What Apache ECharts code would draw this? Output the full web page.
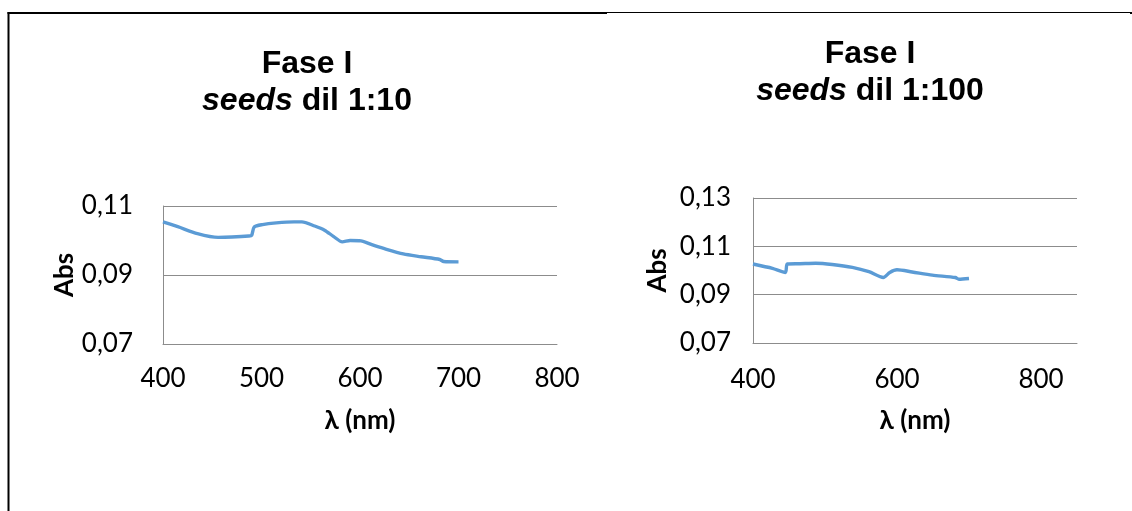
<!DOCTYPE html>
<html>
<head>
<meta charset="utf-8">
<title>Fase I – seeds</title>
<script src="https://cdn.jsdelivr.net/npm/echarts@6/dist/echarts.min.js"></script>
<style>
  html, body { margin: 0; padding: 0; background: #ffffff; }
  #chart { width: 1132px; height: 511px; }
</style>
</head>
<body>
<div id="chart"></div>
<script>
// Absorbance spectra, seeds, phase I
// dilution 1:10
const wavelength10 = [400, 415, 435, 456, 470, 487, 490, 492.6, 501, 515, 533, 541, 554, 564, 573, 582, 590, 601, 612, 624, 644, 662, 681, 685, 700];
const abs10 = [0.1054, 0.1040, 0.1020, 0.1009, 0.1010, 0.1013, 0.1015, 0.1039, 0.1046, 0.1051, 0.1054, 0.1054, 0.1042, 0.1030, 0.1012, 0.0996, 0.1000, 0.0999, 0.0988, 0.0977, 0.0961, 0.0953, 0.0945, 0.0939, 0.0938];
// dilution 1:100
const wavelength100 = [400, 427, 445, 447.6, 465, 487, 510, 538, 561, 581, 590, 600, 621, 649, 681, 686, 700];
const abs100 = [0.1027, 0.1009, 0.0992, 0.1027, 0.1028, 0.1030, 0.1025, 0.1013, 0.0995, 0.0971, 0.0992, 0.1003, 0.0994, 0.0981, 0.0971, 0.0964, 0.0967];

const xTicks10 = { min: 400, max: 800, interval: 100 };
const xTicks100 = { min: 400, max: 850, interval: 200 };
const yTicks10 = { min: 0.07, max: 0.11, interval: 0.02 };
const yTicks100 = { min: 0.07, max: 0.13, interval: 0.02 };

const lineBlue = '#5B9BD5';
const gridGrey = '#8C8C8C';
const labelFont = 'Lato, "Open Sans", sans-serif';
const titleFont = '"Liberation Sans", Arial, sans-serif';

function pairs(xs, ys) { return xs.map((x, i) => [x, ys[i]]); }
const comma = v => v.toFixed(2).replace('.', ',');

function titleBlock(dil, left, top) {
  return {
    text: '{b|Fase I}\n{i|seeds}{b| dil ' + dil + '}',
    left: left, top: top, textAlign: 'center',
    textStyle: {
      rich: {
        b: { fontFamily: titleFont, fontSize: 32, fontWeight: 'bold', color: '#000', lineHeight: 37 },
        i: { fontFamily: titleFont, fontSize: 32, fontWeight: 'bold', fontStyle: 'italic', color: '#000', lineHeight: 37 }
      }
    }
  };
}

function xAxisDef(gridIndex, ticks, labelMargin, nameGap) {
  return {
    type: 'value', gridIndex: gridIndex,
    min: ticks.min, max: ticks.max, interval: ticks.interval,
    name: 'λ (nm)', nameLocation: 'middle', nameGap: nameGap,
    nameTextStyle: { fontFamily: labelFont, fontSize: 26, fontWeight: 'bold', color: '#000' },
    axisLine: { show: true, lineStyle: { color: gridGrey, width: 1 } },
    axisTick: { show: false },
    splitLine: { show: false },
    axisLabel: { fontFamily: labelFont, fontSize: 26, color: '#000', margin: labelMargin, showMaxLabel: ticks.max % ticks.interval === 0 }
  };
}

function yAxisDef(gridIndex, ticks, labelMargin, nameGap) {
  return {
    type: 'value', gridIndex: gridIndex,
    min: ticks.min, max: ticks.max, interval: ticks.interval,
    name: 'Abs', nameLocation: 'middle', nameGap: nameGap,
    nameTextStyle: { fontFamily: labelFont, fontSize: 26, fontWeight: 'bold', color: '#000' },
    axisLine: { show: true, lineStyle: { color: gridGrey, width: 1 } },
    axisTick: { show: false },
    splitLine: { show: true, lineStyle: { color: gridGrey, width: 1 } },
    axisLabel: { fontFamily: labelFont, fontSize: 26, color: '#000', margin: labelMargin, formatter: comma }
  };
}

function spectrum(index, data) {
  return {
    type: 'line', xAxisIndex: index, yAxisIndex: index,
    data: data, showSymbol: false, smooth: 0.25,
    lineStyle: { color: lineBlue, width: 3.4 },
    animation: false
  };
}

const chart = echarts.init(document.getElementById('chart'), null, { renderer: 'canvas' });
chart.setOption({
  backgroundColor: '#ffffff',
  animation: false,
  title: [titleBlock('1:10', 302, 41), titleBlock('1:100', 865, 31)],
  grid: [
    { left: 163, right: 575, top: 206, bottom: 167 },
    { left: 753, right: 55, top: 198, bottom: 168 }
  ],
  xAxis: [xAxisDef(0, xTicks10, 22, 64), xAxisDef(1, xTicks100, 24, 65)],
  yAxis: [yAxisDef(0, yTicks10, 30, 84), yAxisDef(1, yTicks100, 22, 82)],
  series: [spectrum(0, pairs(wavelength10, abs10)), spectrum(1, pairs(wavelength100, abs100))],
  graphic: [
    { type: 'line', shape: { x1: 8.5, y1: 12, x2: 8.5, y2: 511 }, style: { stroke: '#000', lineWidth: 2 } },
    { type: 'line', shape: { x1: 7.5, y1: 13, x2: 607, y2: 13 }, style: { stroke: '#000', lineWidth: 2 } },
    { type: 'line', shape: { x1: 607, y1: 12.5, x2: 1130, y2: 12.5 }, style: { stroke: '#000', lineWidth: 1.2 } },
    { type: 'line', shape: { x1: 1130, y1: 13, x2: 1132, y2: 13 }, style: { stroke: '#000', lineWidth: 2 } }
  ]
});
</script>
</body>
</html>
